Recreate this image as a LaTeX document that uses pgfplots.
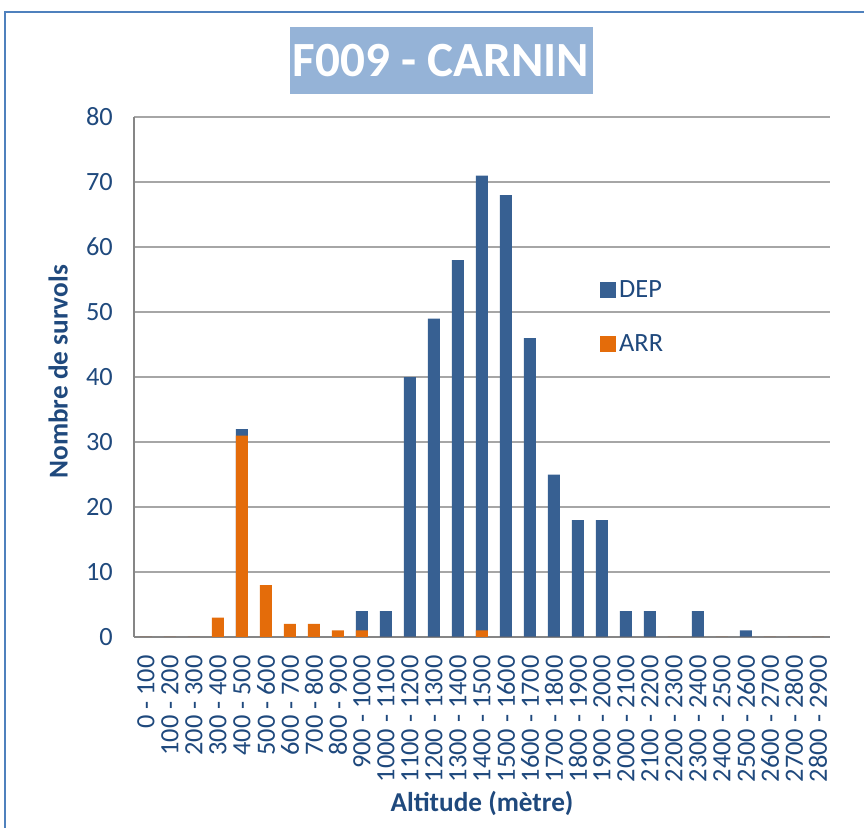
\documentclass[border=0pt]{standalone}
\usepackage{fontspec}
\setmainfont{Carlito}
\usepackage{pgfplots}
\pgfplotsset{compat=1.18}
\definecolor{DEPc}{HTML}{376092}
\definecolor{ARRc}{HTML}{E46C0A}
\definecolor{txtc}{HTML}{1F497D}
\definecolor{gridc}{HTML}{A6A6A6}
\definecolor{axc}{HTML}{868686}
\definecolor{framec}{HTML}{4F81BD}
\definecolor{titlebg}{HTML}{95B3D7}
\begin{document}
\begin{tikzpicture}
\path[use as bounding box] (0,0) rectangle (17.28,16.56);
\draw[framec, line width=1.2pt] (0.1,0) -- (0.1,16.32) -- (17.28,16.32);
\node[fill=titlebg, minimum width=6.06cm, minimum height=1.34cm, inner sep=0pt, text=white,
  font=\fontsize{28}{32}\selectfont\bfseries] at (8.82,15.34) {F009 - CARNIN};
\begin{axis}[
  at={(2.68cm,3.82cm)}, anchor=south west,
  scale only axis, width=13.92cm, height=10.4cm,
  ybar, bar width=0.24cm,
  xmin=-0.5, xmax=28.5, ymin=0, ymax=80,
  ytick={0,10,...,80},
  xtick={0,...,28},
  xticklabels={0 - 100,100 - 200,200 - 300,300 - 400,400 - 500,500 - 600,600 - 700,700 - 800,800 - 900,900 - 1000,1000 - 1100,1100 - 1200,1200 - 1300,1300 - 1400,1400 - 1500,1500 - 1600,1600 - 1700,1700 - 1800,1800 - 1900,1900 - 2000,2000 - 2100,2100 - 2200,2200 - 2300,2300 - 2400,2400 - 2500,2500 - 2600,2600 - 2700,2700 - 2800,2800 - 2900},
  x tick label style={rotate=90, anchor=east, inner sep=0pt},
  xticklabel shift={0.36cm},
  y tick label style={xshift=-0.3cm},
  tick label style={font=\fontsize{15}{17}\selectfont, text=txtc},
  /pgf/number format/assume math mode=true,
  major tick length=0pt,
  axis x line*=bottom, axis y line*=left,
  axis line style={axc, line width=1pt},
  ymajorgrids, grid style={gridc, line width=1.1pt},
  ylabel={Nombre de survols},
  ylabel style={font=\fontsize{15.5}{17}\selectfont\bfseries, text=txtc, at={(axis description cs:-0.109,0.51)}, anchor=center},
  xlabel={Altitude (mètre)},
  xlabel style={font=\fontsize{15.5}{17}\selectfont\bfseries, text=txtc, at={(axis description cs:0.5,-0.321)}, anchor=center},
  legend image code/.code={\fill[#1,draw=none] (0cm,-0.16cm) rectangle (0.32cm,0.16cm);},
  legend style={at={(0.661,0.70)}, anchor=north west, draw=none, fill=none,
    font=\fontsize{15}{17}\selectfont, text=txtc, row sep=0.55cm},
  legend cell align=left,
]
\addplot[fill=DEPc, draw=none, bar shift=0pt] coordinates {
(0,0) (1,0) (2,0) (3,0) (4,32) (5,0) (6,0) (7,0) (8,0) (9,4) (10,4) (11,40) (12,49) (13,58) (14,71)
(15,68) (16,46) (17,25) (18,18) (19,18) (20,4) (21,4) (22,0) (23,4) (24,0) (25,1) (26,0) (27,0) (28,0)};
\addplot[fill=ARRc, draw=none, bar shift=0pt] coordinates {
(0,0) (1,0) (2,0) (3,3) (4,31) (5,8) (6,2) (7,2) (8,1) (9,1) (10,0) (11,0) (12,0) (13,0) (14,1)
(15,0) (16,0) (17,0) (18,0) (19,0) (20,0) (21,0) (22,0) (23,0) (24,0) (25,0) (26,0) (27,0) (28,0)};
\legend{DEP,ARR}
\end{axis}
\end{tikzpicture}
\end{document}
